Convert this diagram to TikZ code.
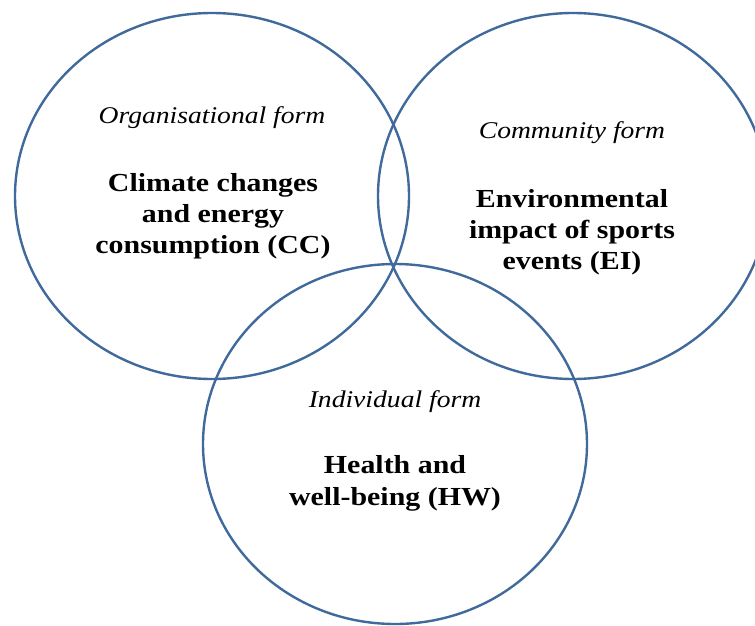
\documentclass[tikz,border=0pt]{standalone}
\usepackage{fontspec}
\setmainfont{Liberation Serif}[FakeStretch=1.15]
\definecolor{ringblue}{RGB}{64,106,155}
\tikzset{
  ring/.style={draw=ringblue, line width=2.4pt},
  formlabel/.style={anchor=base, inner sep=0pt, font=\fontsize{24}{28}\selectfont\itshape},
  topic/.style={anchor=base, inner sep=0pt, font=\fontsize{26}{31}\selectfont\bfseries}
}
\begin{document}
\begin{tikzpicture}[x=1pt,y=-1pt]
  \useasboundingbox (0,0) rectangle (755,626);
  \clip (0,0) rectangle (755,626);

  % the three overlapping forms
  \draw[ring] (212,196) ellipse [x radius=197pt, y radius=183pt];
  \draw[ring] (573,196) ellipse [x radius=195pt, y radius=183pt];
  \draw[ring] (395,444) ellipse [x radius=192pt, y radius=180pt];

  % organisational form
  \node[formlabel] (org) at (212,123) {Organisational form};
  \node[topic] (cc1) at (213,191) {Climate changes};
  \node[topic] (cc2) at (213,222) {and energy};
  \node[topic] (cc3) at (213,253) {consumption (CC)};

  % community form
  \node[formlabel] (com) at (572,138) {Community form};
  \node[topic] (ei1) at (572,207) {Environmental};
  \node[topic] (ei2) at (572,238) {impact of sports};
  \node[topic] (ei3) at (572,269) {events (EI)};

  % individual form
  \node[formlabel] (ind) at (395,407) {Individual form};
  \node[topic] (hw1) at (395,473) {Health and};
  \node[topic] (hw2) at (395,505) {well-being (HW)};
\end{tikzpicture}
\end{document}
